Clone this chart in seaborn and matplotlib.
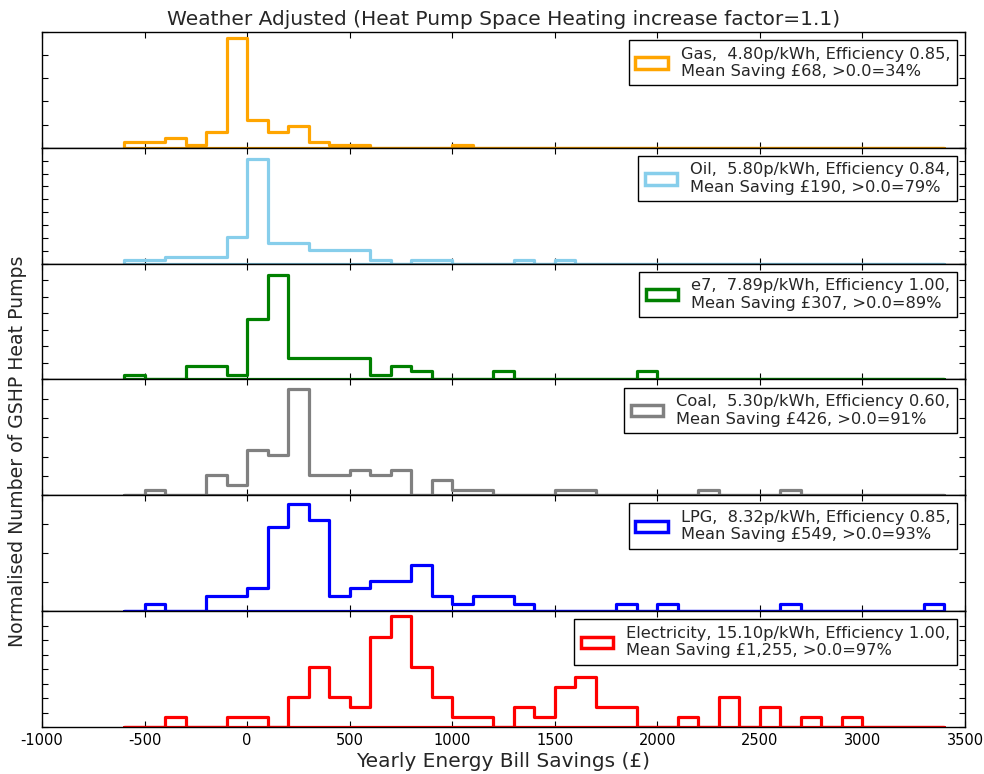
import numpy as np
import pandas as pd
import matplotlib
matplotlib.use("Agg")
import matplotlib.pyplot as plt
from matplotlib.patches import Patch
from matplotlib.ticker import MultipleLocator
import seaborn as sns

# £100-wide saving bins covering -£600 .. £3,400
bin_edges = np.arange(-600, 3401, 100)

# number of heat pumps in each bin, keyed by the bin's lower edge (£)
gas_counts = {-600: 2, -500: 2, -400: 3, -300: 1, -200: 5, -100: 35, 0: 9,
              100: 5, 200: 7, 300: 2, 400: 1, 500: 1, 1000: 1}
oil_counts = {-600: 1, -500: 1, -400: 2, -300: 2, -200: 2, -100: 8, 0: 31,
              100: 6, 200: 6, 300: 4, 400: 4, 500: 4, 600: 1, 800: 1, 900: 1,
              1300: 1, 1500: 1}
e7_counts = {-600: 1, -300: 3, -200: 3, -100: 1, 0: 14, 100: 24, 200: 5,
             300: 5, 400: 5, 500: 5, 600: 1, 700: 3, 800: 2, 1200: 2, 1900: 2}
coal_counts = {-500: 1, -200: 4, -100: 2, 0: 9, 100: 8, 200: 21, 300: 4,
               400: 4, 500: 5, 600: 4, 700: 5, 900: 3, 1000: 1, 1100: 1,
               1500: 1, 1600: 1, 2200: 1, 2600: 1}
lpg_counts = {-500: 1, -200: 2, -100: 2, 0: 3, 100: 11, 200: 14, 300: 12,
              400: 2, 500: 3, 600: 4, 700: 4, 800: 6, 900: 2, 1000: 1,
              1100: 2, 1200: 2, 1300: 1, 1800: 1, 2000: 1, 2600: 1, 3300: 1}
elec_counts = {-400: 1, -100: 1, 0: 1, 200: 3, 300: 6, 400: 3, 500: 2,
               600: 9, 700: 11, 800: 6, 900: 3, 1000: 1, 1100: 1, 1300: 2,
               1400: 1, 1500: 4, 1600: 5, 1700: 2, 1800: 2, 2100: 1,
               2300: 3, 2500: 2, 2700: 1, 2900: 1}

fuels = ["Gas", "Oil", "e7", "Coal", "LPG", "Electricity"]
prices = [4.80, 5.80, 7.89, 5.30, 8.32, 15.10]          # p/kWh
efficiencies = [0.85, 0.84, 1.00, 0.60, 0.85, 1.00]
mean_savings = [68, 190, 307, 426, 549, 1255]           # £
positive_pct = [34, 79, 89, 91, 93, 97]                 # % with saving > 0
all_counts = [gas_counts, oil_counts, e7_counts, coal_counts, lpg_counts,
              elec_counts]
colors = ["orange", "skyblue", "green", "gray", "blue", "red"]
y_tops = [50, 45, 35, 30, 20, 16]                       # % per bin
y_steps = [10, 5, 5, 5, 5, 2]

sns.set_style("ticks")
plt.rcParams.update({
    "font.family": ["DejaVu Sans"],
    "axes.edgecolor": "black",
    "axes.linewidth": 1.0,
    "xtick.direction": "in",
    "ytick.direction": "in",
    "xtick.top": True,
    "ytick.right": True,
    "xtick.major.size": 4,
    "ytick.major.size": 4,
    "xtick.major.width": 0.8,
    "ytick.major.width": 0.8,
    "xtick.color": "black",
    "ytick.color": "black",
    "axes.unicode_minus": False,
    "legend.fancybox": False,
    "legend.framealpha": 1.0,
    "legend.edgecolor": "black",
})

fig, axes = plt.subplots(6, 1, figsize=(9.84, 7.74), dpi=100, sharex=True)
fig.subplots_adjust(left=0.0427, right=0.9807, top=0.9587, bottom=0.0607,
                    hspace=0)

for i, ax in enumerate(axes):
    counts = all_counts[i]
    values = np.repeat([c + 50 for c in counts], list(counts.values()))
    df = pd.DataFrame({"saving": values})
    sns.histplot(data=df, x="saving", bins=bin_edges, stat="percent",
                 element="step", fill=True, color=colors[i],
                 facecolor="none", edgecolor=colors[i], linewidth=2.3,
                 ax=ax)
    ax.set_xlim(-1000, 3500)
    ax.set_ylim(0, y_tops[i])
    ax.yaxis.set_major_locator(MultipleLocator(y_steps[i]))
    ax.xaxis.set_major_locator(MultipleLocator(500))
    ax.tick_params(axis="y", labelleft=False, labelright=False)
    ax.tick_params(axis="x", labelsize=10.5, pad=4)
    ax.set_ylabel("")
    ax.set_xlabel("")
    for side in ["top", "right", "left", "bottom"]:
        ax.spines[side].set_visible(True)
        ax.spines[side].set_zorder(5)

    label = (f"{fuels[i]}, {prices[i]:5.2f}p/kWh, Efficiency {efficiencies[i]:.2f},\n"
             f"Mean Saving £{mean_savings[i]:,}, >0.0={positive_pct[i]}%")
    handle = Patch(facecolor="white", edgecolor=colors[i], linewidth=2.5)
    ax.legend(handles=[handle], labels=[label], loc="upper right",
              fontsize=11.7, borderpad=0.4, handletextpad=0.8)

axes[-1].set_xlabel("Yearly Energy Bill Savings (£)", fontsize=14.5,
                    labelpad=3)
axes[0].set_title("Weather Adjusted (Heat Pump Space Heating increase factor=1.1)",
                  fontsize=14.5, pad=5)
fig.text(18 / 984, 1 - 451 / 774, "Normalised Number of GSHP Heat Pumps",
         rotation=90, ha="center", va="center", fontsize=13.6)

fig.savefig("out.png", dpi=100)
